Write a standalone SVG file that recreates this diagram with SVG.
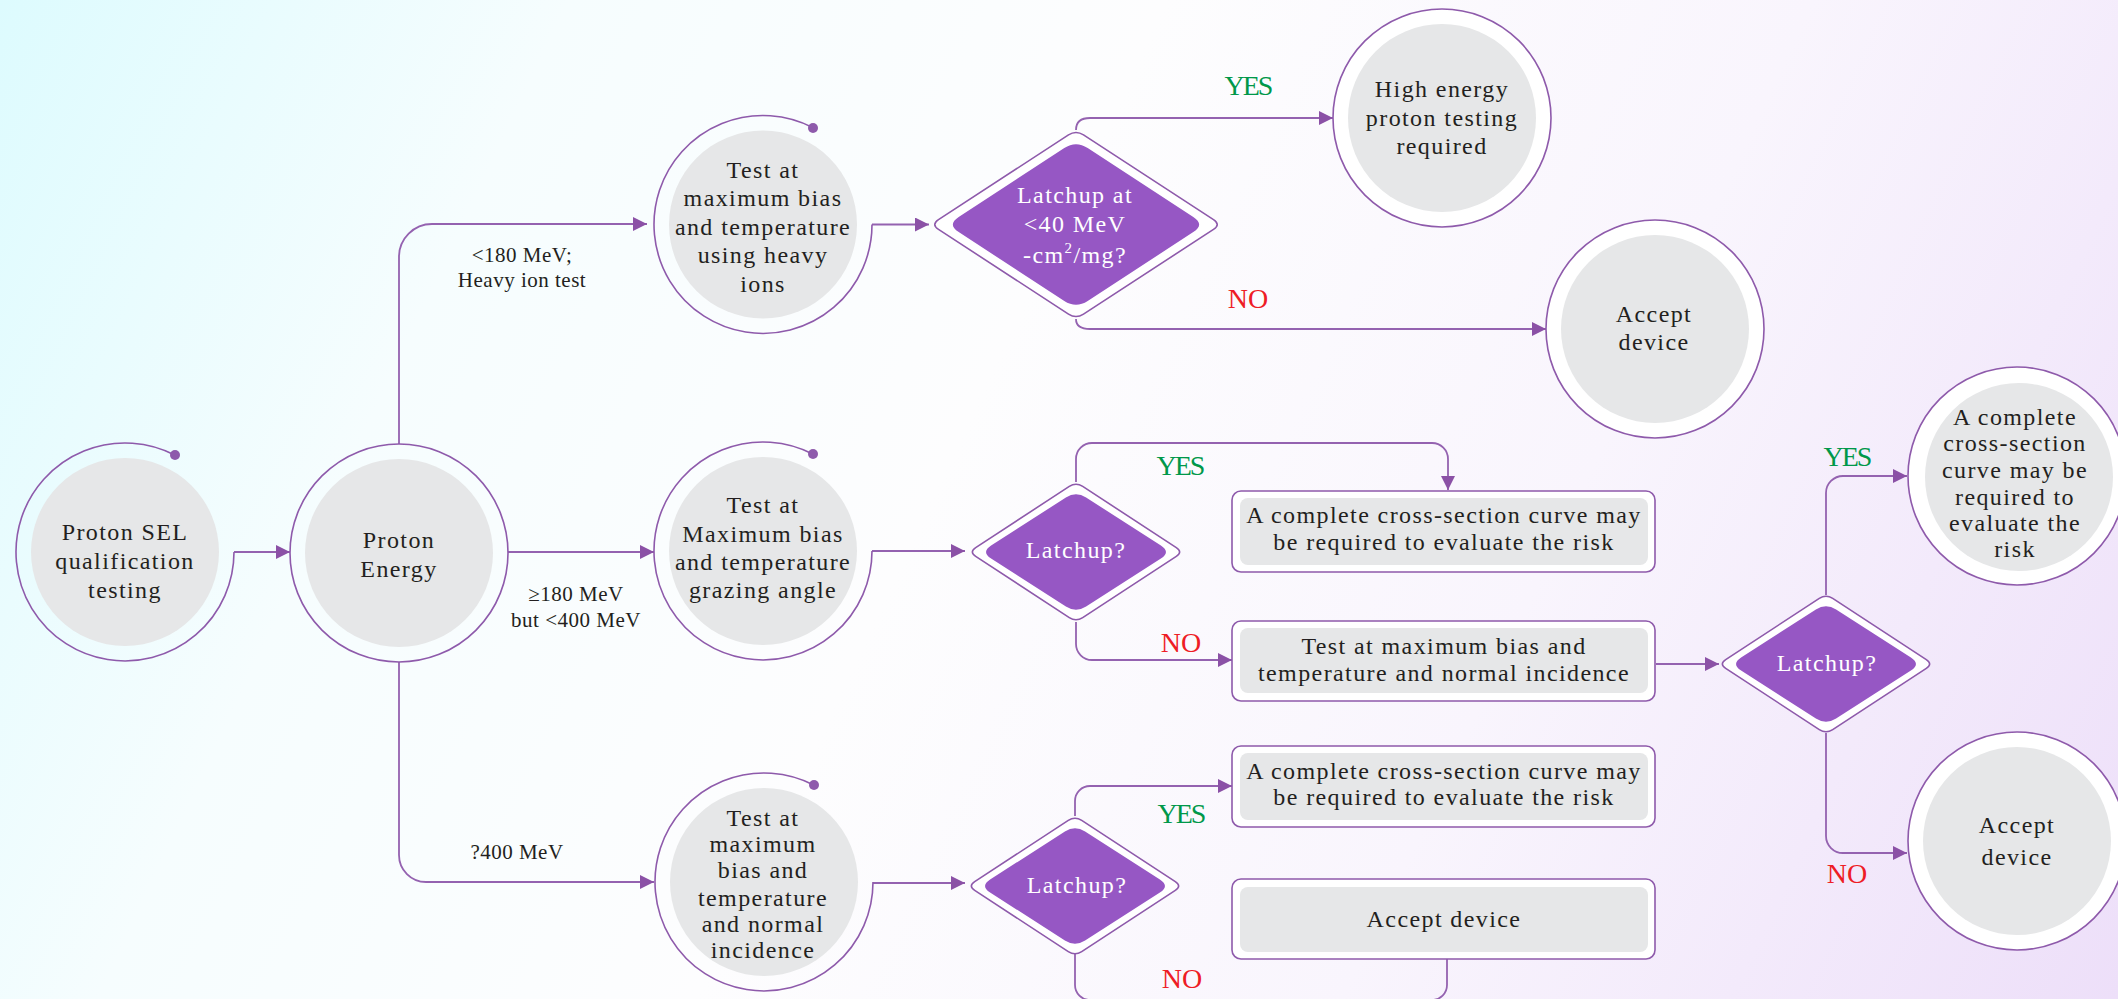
<svg xmlns="http://www.w3.org/2000/svg" width="2118" height="999" viewBox="0 0 2118 999">
<defs>
<linearGradient id="bg" gradientUnits="userSpaceOnUse" x1="0" y1="0" x2="2118" y2="999">
<stop offset="0" stop-color="#ddfbfe"/>
<stop offset="0.22" stop-color="#f6fdfe"/>
<stop offset="0.45" stop-color="#fdfdfe"/>
<stop offset="0.7" stop-color="#f9f5fd"/>
<stop offset="1" stop-color="#eddff9"/>
</linearGradient>
<marker id="arr" markerWidth="16" markerHeight="16" refX="14" refY="7" orient="auto" markerUnits="userSpaceOnUse">
<path d="M0,0 L14,7 L0,14Z" fill="#8b51a6"/>
</marker>
<path id="dOutS" d="M6.7,-65.6 L100.3,-4.4 Q107,0 100.3,4.4 L6.7,65.6 Q0,70 -6.7,65.6 L-100.3,4.4 Q-107,0 -100.3,-4.4 L-6.7,-65.6 Q0,-70 6.7,-65.6Z"/>
<path id="dInS" d="M10.1,-54.5 L84.9,-6.5 Q95,0 84.9,6.5 L10.1,54.5 Q0,61 -10.1,54.5 L-84.9,6.5 Q-95,0 -84.9,-6.5 L-10.1,-54.5 Q0,-61 10.1,-54.5Z"/>
<path id="dOutL" d="M7.5,-89.6 L137.5,-4.9 Q145,0 137.5,4.9 L7.5,89.6 Q0,94.5 -7.5,89.6 L-137.5,4.9 Q-145,0 -137.5,-4.9 L-7.5,-89.6 Q0,-94.5 7.5,-89.6Z"/>
<path id="dInL" d="M11.7,-76.4 L117.3,-7.6 Q129,0 117.3,7.6 L11.7,76.4 Q0,84 -11.7,76.4 L-117.3,7.6 Q-129,0 -117.3,-7.6 L-11.7,-76.4 Q0,-84 11.7,-76.4Z"/>
</defs>
<style>
.ring{fill:none;stroke:#8e5aab;stroke-width:1.6}
.ringw{fill:#ffffff;stroke:#8e5aab;stroke-width:1.6}
.core{fill:#e6e7e8}
.dot{fill:#8e5aab}
.dout{fill:#ffffff;stroke:#8e5aab;stroke-width:1.6}
.din{fill:#9657c4}
.box{fill:#ffffff;stroke:#8e5aab;stroke-width:1.6}
.con{fill:none;stroke:#9462b0;stroke-width:1.8}
.t{font-family:"Liberation Serif","Times New Roman",serif;font-size:24px;fill:#231f20;text-anchor:middle;letter-spacing:1.4px}
.w{fill:#ffffff}
.lbl{font-family:"Liberation Serif","Times New Roman",serif;font-size:21px;fill:#231f20;text-anchor:middle;letter-spacing:0.5px}
.yes{font-family:"Liberation Serif","Times New Roman",serif;font-size:28px;fill:#00984a;text-anchor:middle;letter-spacing:-2px}
.no{font-family:"Liberation Serif","Times New Roman",serif;font-size:28px;fill:#ee1c25;text-anchor:middle}
</style>
<rect x="0" y="0" width="2118" height="999" fill="url(#bg)"/>

<g id="connectors">
<path class="con" d="M234,552 H290" marker-end="url(#arr)"/>
<path class="con" d="M399,444 V257 A33 33 0 0 1 432,224 H647" marker-end="url(#arr)"/>
<path class="con" d="M508,552 H654" marker-end="url(#arr)"/>
<path class="con" d="M399,662 V855 A27 27 0 0 0 426,882 H654" marker-end="url(#arr)"/>
<path class="con" d="M872,224.5 H929" marker-end="url(#arr)"/>
<path class="con" d="M1076,130 Q1076,118 1090,118 H1333" marker-end="url(#arr)"/>
<path class="con" d="M1076,319 Q1076,329 1090,329 H1546" marker-end="url(#arr)"/>
<path class="con" d="M872,551 H965" marker-end="url(#arr)"/>
<path class="con" d="M1076,482 V459 A16 16 0 0 1 1092,443 H1432 A16 16 0 0 1 1448,459 V490" marker-end="url(#arr)"/>
<path class="con" d="M1076,622 V644 A16 16 0 0 0 1092,660 H1232" marker-end="url(#arr)"/>
<path class="con" d="M1656,664 H1719" marker-end="url(#arr)"/>
<path class="con" d="M1826,595 V493 A17 17 0 0 1 1843,476 H1907" marker-end="url(#arr)"/>
<path class="con" d="M1826,733 V836 A17 17 0 0 0 1843,853 H1907" marker-end="url(#arr)"/>
<path class="con" d="M873,883 H965" marker-end="url(#arr)"/>
<path class="con" d="M1075,816 V801 A15 15 0 0 1 1090,786 H1232" marker-end="url(#arr)"/>
<path class="con" d="M1075,954 V985 A15 15 0 0 0 1090,1000 H1432 A15 15 0 0 0 1447,985 V959"/>
<text class="lbl" x="522" y="262">&lt;180 MeV;</text>
<text class="lbl" x="522" y="287">Heavy ion test</text>
<text class="lbl" x="576" y="601">≥180 MeV</text>
<text class="lbl" x="576" y="627">but &lt;400 MeV</text>
<text class="lbl" x="517" y="859">?400 MeV</text>
<text class="yes" x="1248" y="95">YES</text>
<text class="no" x="1248" y="308">NO</text>
<text class="yes" x="1180" y="475">YES</text>
<text class="no" x="1181" y="652">NO</text>
<text class="yes" x="1181" y="823">YES</text>
<text class="no" x="1182" y="988">NO</text>
<text class="yes" x="1847" y="466">YES</text>
<text class="no" x="1847" y="883">NO</text>
</g>

<g id="n-proton-sel">
<path class="ring" d="M175.2,455.2 A109 109 0 1 0 234,552"/>
<circle class="dot" cx="175" cy="455" r="5"/>
<circle class="core" cx="125" cy="552" r="94"/>
<text class="t" x="125" y="540">Proton SEL</text>
<text class="t" x="125" y="569">qualification</text>
<text class="t" x="125" y="598">testing</text>
</g>

<g id="n-proton-energy">
<circle class="ring" cx="399" cy="553" r="109"/>
<circle class="core" cx="399" cy="553" r="94"/>
<text class="t" x="399" y="548">Proton</text>
<text class="t" x="399" y="577">Energy</text>
</g>

<g id="n-heavy-ion">
<path class="ring" d="M813.2,127.7 A109 109 0 1 0 872,224.5"/>
<circle class="dot" cx="813" cy="128" r="5"/>
<circle class="core" cx="763" cy="224.5" r="94"/>
<text class="t" x="763" y="178">Test at</text>
<text class="t" x="763" y="206">maximum bias</text>
<text class="t" x="763" y="235">and temperature</text>
<text class="t" x="763" y="263">using heavy</text>
<text class="t" x="763" y="292">ions</text>
</g>

<g id="n-grazing">
<path class="ring" d="M813.2,454.2 A109 109 0 1 0 872,551"/>
<circle class="dot" cx="813" cy="454" r="5"/>
<circle class="core" cx="763" cy="551" r="94"/>
<text class="t" x="763" y="513">Test at</text>
<text class="t" x="763" y="542">Maximum bias</text>
<text class="t" x="763" y="570">and temperature</text>
<text class="t" x="763" y="598">grazing angle</text>
</g>

<g id="n-normal">
<path class="ring" d="M814.2,785.2 A109 109 0 1 0 873,882"/>
<circle class="dot" cx="814" cy="785" r="5"/>
<circle class="core" cx="764" cy="882" r="94"/>
<text class="t" x="763" y="826">Test at</text>
<text class="t" x="763" y="852">maximum</text>
<text class="t" x="763" y="878">bias and</text>
<text class="t" x="763" y="906">temperature</text>
<text class="t" x="763" y="932">and normal</text>
<text class="t" x="763" y="958">incidence</text>
</g>

<g id="d-latchup-40">
<use href="#dOutL" class="dout" transform="translate(1076,224.5)"/>
<use href="#dInL" class="din" transform="translate(1076,224.5)"/>
<text class="t w" x="1075" y="203">Latchup at</text>
<text class="t w" x="1075" y="232">&lt;40 MeV</text>
<text class="t w" x="1075" y="263">-cm<tspan font-size="15" dy="-10">2</tspan><tspan dy="10">/mg?</tspan></text>
</g>

<g id="n-high-energy">
<circle class="ringw" cx="1442" cy="118" r="109"/>
<circle class="core" cx="1442" cy="118" r="94"/>
<text class="t" x="1442" y="97">High energy</text>
<text class="t" x="1442" y="126">proton testing</text>
<text class="t" x="1442" y="154">required</text>
</g>

<g id="n-accept-1">
<circle class="ringw" cx="1655" cy="329" r="109"/>
<circle class="core" cx="1655" cy="329" r="94"/>
<text class="t" x="1654" y="322">Accept</text>
<text class="t" x="1654" y="350">device</text>
</g>

<g id="d-latchup-2">
<use href="#dOutS" class="dout" transform="translate(1076,552)"/>
<use href="#dInS" class="din" transform="translate(1076,552)"/>
<text class="t w" x="1076" y="558">Latchup?</text>
</g>

<g id="b-cross-1">
<rect class="box" x="1232" y="491" width="423" height="81" rx="9"/>
<rect class="core" x="1240" y="498" width="408" height="67" rx="8"/>
<text class="t" x="1444" y="523">A complete cross-section curve may</text>
<text class="t" x="1444" y="550">be required to evaluate the risk</text>
</g>

<g id="b-normal">
<rect class="box" x="1232" y="621" width="423" height="80" rx="9"/>
<rect class="core" x="1240" y="628" width="408" height="65" rx="8"/>
<text class="t" x="1444" y="654">Test at maximum bias and</text>
<text class="t" x="1444" y="681">temperature and normal incidence</text>
</g>

<g id="d-latchup-3">
<use href="#dOutS" class="dout" transform="translate(1826,664)"/>
<use href="#dInS" class="din" transform="translate(1826,664)"/>
<text class="t w" x="1827" y="671">Latchup?</text>
</g>

<g id="n-cross-2">
<circle class="ringw" cx="2017" cy="476" r="109"/>
<circle class="core" cx="2019" cy="477" r="94"/>
<text class="t" x="2015" y="425">A complete</text>
<text class="t" x="2015" y="451">cross-section</text>
<text class="t" x="2015" y="478">curve may be</text>
<text class="t" x="2015" y="505">required to</text>
<text class="t" x="2015" y="531">evaluate the</text>
<text class="t" x="2015" y="557">risk</text>
</g>

<g id="n-accept-2">
<circle class="ringw" cx="2017" cy="841" r="109"/>
<circle class="core" cx="2017" cy="841" r="94"/>
<text class="t" x="2017" y="833" font-size="26">Accept</text>
<text class="t" x="2017" y="865" font-size="26">device</text>
</g>

<g id="d-latchup-4">
<use href="#dOutS" class="dout" transform="translate(1075,886)"/>
<use href="#dInS" class="din" transform="translate(1075,886)"/>
<text class="t w" x="1077" y="893">Latchup?</text>
</g>

<g id="b-cross-3">
<rect class="box" x="1232" y="746" width="423" height="81" rx="9"/>
<rect class="core" x="1240" y="753" width="408" height="67" rx="8"/>
<text class="t" x="1444" y="779">A complete cross-section curve may</text>
<text class="t" x="1444" y="805">be required to evaluate the risk</text>
</g>

<g id="b-accept-3">
<rect class="box" x="1232" y="879" width="423" height="80" rx="9"/>
<rect class="core" x="1240" y="887" width="408" height="65" rx="8"/>
<text class="t" x="1444" y="927">Accept device</text>
</g>
</svg>
